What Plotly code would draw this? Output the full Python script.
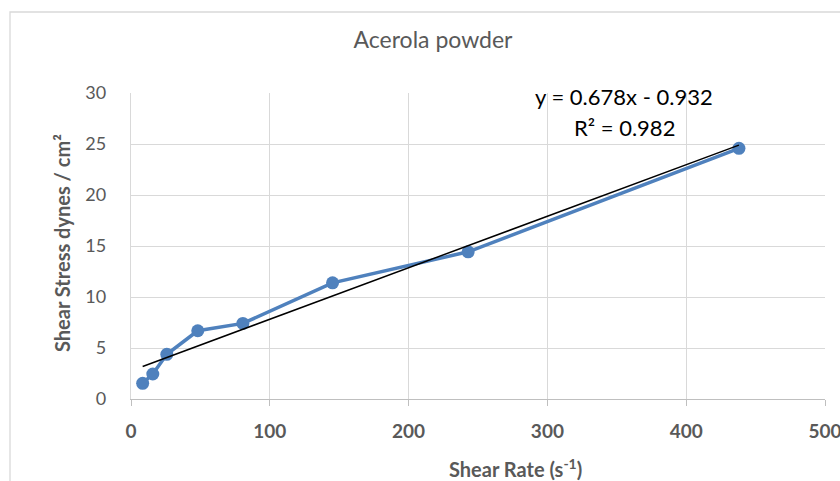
import numpy as np
import plotly.graph_objects as go

# Data
shear_rate = [8.4, 15.7, 25.8, 48.1, 80.6, 145.2, 242.9, 438.0]
shear_stress = [1.54, 2.45, 4.38, 6.69, 7.41, 11.39, 14.43, 24.58]
x_ticks = [0, 100, 200, 300, 400, 500]
y_ticks = [0, 5, 10, 15, 20, 25, 30]
title_text = "Acerola powder"
x_title = "Shear Rate (s<sup>-1</sup>)"
y_title = "Shear Stress dynes / cm²"
eq_text = "y = 0.678x - 0.932"
r2_text = "R² = 0.982"

# linear trendline from data
slope, intercept = np.polyfit(shear_rate, shear_stress, 1)
trend_x = [min(shear_rate), max(shear_rate)]
trend_y = [slope * v + intercept for v in trend_x]

W, H = 840, 481
L, R, T, B = 131, 15, 93, 82
PW, PH = W - L - R, H - T - B


def px(xp):
    return (xp - L) / PW


def py(yp):
    return (H - B - yp) / PH


FONT = "Lato"
GRAY = "#595959"
GRID = "#d9d9d9"

fig = go.Figure()
fig.add_trace(go.Scatter(
    x=shear_rate, y=shear_stress, mode="lines+markers",
    line=dict(color="#4F81BD", width=3.5),
    marker=dict(color="#4F81BD", size=13),
    showlegend=False,
))
fig.add_trace(go.Scatter(
    x=trend_x, y=trend_y, mode="lines",
    line=dict(color="black", width=1.5),
    showlegend=False,
))

fig.update_layout(
    width=W, height=H,
    margin=dict(l=L, r=R, t=T, b=B, autoexpand=False),
    paper_bgcolor="white", plot_bgcolor="white",
    font=dict(family=FONT, color=GRAY),
    title=dict(text=title_text, xref="container", yref="container",
               x=433 / W, y=1 - 40 / H, xanchor="center", yanchor="middle",
               font=dict(family=FONT, size=23, color=GRAY)),
    xaxis=dict(range=[0, 500], tickvals=x_ticks, showgrid=True, gridcolor=GRID,
               gridwidth=1.3, zeroline=False, showline=True, linecolor="#bfbfbf",
               linewidth=1.3, ticks="outside", ticklen=6, tickcolor="#bfbfbf",
               tickwidth=1.3, ticklabelstandoff=9, automargin=False,
               ticklabeloverflow="allow",
               tickfont=dict(family=FONT, size=19, color=GRAY, weight="bold")),
    yaxis=dict(range=[0, 30], tickvals=y_ticks, showgrid=True, gridcolor=GRID,
               gridwidth=1.3, zeroline=False, showline=True, linecolor=GRID,
               linewidth=1.3, ticks="", ticklabelstandoff=20, automargin=False,
               ticklabeloverflow="allow",
               tickfont=dict(family=FONT, size=18, color=GRAY)),
    shapes=[dict(type="rect", xref="paper", yref="paper",
                 x0=px(10), x1=px(900), y0=py(520), y1=py(12),
                 line=dict(color=GRID, width=1.3), fillcolor="rgba(0,0,0,0)",
                 layer="below")],
    annotations=[
        dict(text=x_title, xref="paper", yref="paper", x=px(515), y=py(468),
             xanchor="center", yanchor="middle", showarrow=False,
             font=dict(family=FONT, size=20, color=GRAY, weight="bold")),
        dict(text=y_title, xref="paper", yref="paper", x=px(62), y=py(243),
             xanchor="center", yanchor="middle", showarrow=False, textangle=-90,
             font=dict(family=FONT, size=20, color=GRAY, weight="bold")),
        dict(text=eq_text, xref="paper", yref="paper", x=px(624), y=py(97),
             xanchor="center", yanchor="middle", showarrow=False,
             font=dict(family=FONT, size=22, color="black")),
        dict(text=r2_text, xref="paper", yref="paper", x=px(624), y=py(127),
             xanchor="center", yanchor="middle", showarrow=False,
             font=dict(family=FONT, size=22, color="black")),
    ],
)

fig.write_html(
    "out.html",
    config={"displayModeBar": False},
    post_script="document.body.style.margin='0';document.body.style.overflow='hidden';",
)
